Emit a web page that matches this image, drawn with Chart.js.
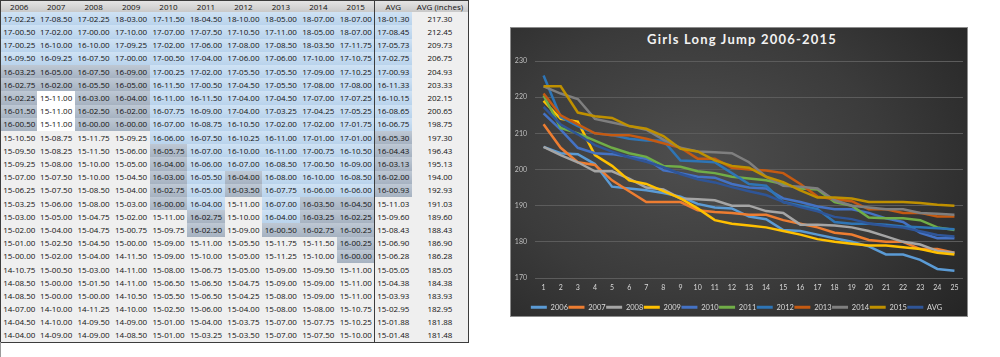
<!DOCTYPE html>
<html><head><meta charset="utf-8">
<script src="https://cdn.jsdelivr.net/npm/chart.js@4.4.1/dist/chart.umd.min.js"></script>
<style>
html,body{margin:0;padding:0;background:#fff;width:1000px;height:357px;overflow:hidden;position:relative;}
#tbl{position:absolute;left:0;top:0;width:470px;height:357px;font-family:"Open Sans",sans-serif;font-size:8px;color:#111;}
.c{position:absolute;box-sizing:border-box;border-right:1px solid #3c3c3c;border-bottom:1px solid #3c3c3c;display:flex;align-items:center;justify-content:center;white-space:nowrap;line-height:1;}
.hd{background:linear-gradient(#e4e4e4,#c9c9c9);}
.bl{background:linear-gradient(#cfe2f4,#b9d3ec);}
.gr{background:linear-gradient(#bec8d4,#a6b2c1);}
.wh{background:#ffffff;}
.lt{background:#efefef;}
#edge{position:absolute;left:0;top:342px;width:1px;height:15px;background:#9a9a9a;}
#box{position:absolute;left:510px;top:27px;width:458px;height:290px;box-sizing:border-box;border:1px solid #8c8c8c;
 background:radial-gradient(ellipse 75% 85% at 40% 45%, #4e4e4e 0%, #3b3b3b 55%, #262626 100%);}
#title{position:absolute;left:510px;top:31px;width:464px;text-align:center;font-family:Lato,"Open Sans",sans-serif;font-weight:bold;font-size:13px;letter-spacing:1.2px;color:#f2f2f2;}
#cv{position:absolute;left:510px;top:27px;}
</style></head><body>
<div id="tbl"></div><div id="edge"></div>
<div id="box"></div>
<div id="title">Girls Long Jump 2006-2015</div>
<canvas id="cv" width="458" height="294"></canvas>
<script>
const headers = ['2006','2007','2008','2009','2010','2011','2012','2013','2014','2015','AVG','AVG (inches)'];
const categories = ['1','2','3','4','5','6','7','8','9','10','11','12','13','14','15','16','17','18','19','20','21','22','23','24','25'];
const y2006 = ['17-02.25','17-00.50','17-00.25','16-09.50','16-03.25','16-02.75','16-02.25','16-01.50','16-00.50','15-10.50','15-09.50','15-09.25','15-07.00','15-06.25','15-03.25','15-03.00','15-02.00','15-01.00','15-00.00','14-10.75','14-08.50','14-08.50','14-07.00','14-04.50','14-04.00'];
const y2007 = ['17-08.50','17-02.00','16-10.00','16-09.25','16-05.00','16-02.00','15-11.00','15-11.00','15-11.00','15-08.75','15-08.25','15-08.00','15-07.50','15-07.50','15-06.00','15-05.00','15-04.00','15-02.50','15-02.00','15-00.50','15-00.00','15-00.00','14-10.00','14-10.00','14-09.00'];
const y2008 = ['17-02.25','17-00.00','16-10.00','16-07.50','16-07.50','16-05.50','16-03.00','16-02.50','16-00.00','15-11.75','15-11.50','15-10.00','15-10.00','15-08.50','15-08.00','15-04.75','15-04.75','15-04.50','15-04.00','15-03.00','15-01.50','15-00.00','14-11.25','14-09.50','14-09.00'];
const y2009 = ['18-03.00','17-10.00','17-09.25','17-00.00','16-09.00','16-05.00','16-04.00','16-02.00','16-00.00','15-09.25','15-06.00','15-05.00','15-04.50','15-04.00','15-03.00','15-02.00','15-00.75','15-00.00','14-11.50','14-11.00','14-11.00','14-10.50','14-10.00','14-09.00','14-08.50'];
const y2010 = ['17-11.50','17-07.00','17-02.00','17-00.50','17-00.25','16-11.50','16-11.00','16-07.75','16-07.00','16-06.00','16-05.75','16-04.00','16-03.00','16-02.75','16-00.00','15-11.00','15-09.75','15-09.00','15-09.00','15-08.00','15-06.50','15-05.50','15-02.50','15-01.00','15-01.00'];
const y2011 = ['18-04.50','17-07.50','17-06.00','17-04.00','17-02.00','17-00.50','16-11.50','16-09.00','16-08.75','16-07.50','16-07.00','16-06.00','16-05.50','16-05.00','16-04.00','16-02.75','16-02.50','15-11.00','15-10.00','15-06.75','15-06.50','15-06.50','15-06.00','15-04.00','15-03.25'];
const y2012 = ['18-10.00','17-10.50','17-08.00','17-06.00','17-05.50','17-04.50','17-04.00','17-04.00','16-10.50','16-10.25','16-10.00','16-07.00','16-04.00','16-03.50','15-11.00','15-10.00','15-09.00','15-05.50','15-05.00','15-05.00','15-04.75','15-04.25','15-04.00','15-03.75','15-03.50'];
const y2013 = ['18-05.00','17-11.00','17-08.50','17-06.00','17-05.50','17-05.50','17-04.50','17-03.25','17-02.00','16-11.00','16-11.00','16-08.50','16-08.00','16-07.75','16-07.00','16-04.00','16-00.50','15-11.75','15-11.25','15-09.00','15-09.00','15-08.00','15-08.00','15-07.00','15-07.00'];
const y2014 = ['18-07.00','18-05.00','18-03.50','17-10.00','17-09.00','17-08.00','17-07.00','17-04.25','17-02.00','17-01.00','17-00.75','17-00.50','16-10.00','16-06.00','16-03.50','16-03.25','16-02.75','15-11.50','15-10.00','15-09.50','15-09.00','15-09.00','15-08.00','15-07.75','15-07.50'];
const y2015 = ['18-07.00','18-07.00','17-11.75','17-10.75','17-10.25','17-08.00','17-07.25','17-05.25','17-01.75','17-01.00','16-10.50','16-09.00','16-08.50','16-06.00','16-04.50','16-02.25','16-00.25','16-00.25','16-00.00','15-11.00','15-11.00','15-11.00','15-10.75','15-10.25','15-10.00'];
const avgFtIn = ['18-01.30','17-08.45','17-05.73','17-02.75','17-00.93','16-11.33','16-10.15','16-08.65','16-06.75','16-05.30','16-04.43','16-03.13','16-02.00','16-00.93','15-11.03','15-09.60','15-08.43','15-06.90','15-06.28','15-05.05','15-04.38','15-03.93','15-02.95','15-01.88','15-01.48'];
const avgInches = [217.30,212.45,209.73,206.75,204.93,203.33,202.15,200.65,198.75,197.30,196.43,195.13,194.00,192.93,191.03,189.60,188.43,186.90,186.28,185.05,184.38,183.93,182.95,181.88,181.48];

const yearCols = [y2006,y2007,y2008,y2009,y2010,y2011,y2012,y2013,y2014,y2015];
const toInches = s => { const [ft, inch] = s.split('-'); return Number(ft) * 12 + Number(inch); };

// ----- table (cell shading bands: last blue row, last gray row, last white row)
const bands = [[4,9,0],[4,6,9],[4,9,0],[4,9,0],[10,15,0],[15,17,0],[12,14,0],[16,17,0],[14,17,0],[14,19,0],[9,14,0]];
const tbl = document.getElementById('tbl');
const colW = 37.45, lastW = 56, hdrH = 12.3, rowH = 13.19;
const allCols = [...yearCols, avgFtIn, avgInches.map(v => v.toFixed(2))];
function cell(x, y, w, h, txt, cls, first, top) {
  const d = document.createElement('div');
  d.className = 'c ' + cls;
  d.style.left = x + 'px'; d.style.top = y + 'px'; d.style.width = w + 'px'; d.style.height = h + 'px';
  if (first) d.style.borderLeft = '1px solid #3c3c3c';
  if (top) d.style.borderTop = '1px solid #3c3c3c';
  d.textContent = txt; tbl.appendChild(d);
}
headers.forEach((h, c) => {
  const x = c * colW, w = c === 11 ? lastW : colW;
  cell(x, 0, w + 1, hdrH + 1, h, 'hd', c === 0, true);
  for (let r = 0; r < 25; r++) {
    let cls = 'lt';
    if (c < 11) {
      const [b, g, wt] = bands[c];
      if (r + 1 <= b) cls = 'bl'; else if (r + 1 <= g) cls = 'gr'; else if (r + 1 <= wt) cls = 'wh';
    }
    cell(x, hdrH + r * rowH, w + 1, rowH + 1, allCols[c][r], cls, c === 0, false);
  }
});

// ----- chart
const seriesNames = ['2006','2007','2008','2009','2010','2011','2012','2013','2014','2015','AVG'];
const colors = ['#5B9BD5','#ED7D31','#A5A5A5','#FFC000','#4472C4','#70AD47','#2E75B6','#C55A11','#7F7F7F','#BF9000','#2F5597'];
const seriesData = [...yearCols.map(col => col.map(toInches)), avgInches];

new Chart(document.getElementById('cv'), {
  type: 'line',
  data: {
    labels: categories,
    datasets: seriesData.map((d, i) => ({
      label: seriesNames[i], data: d, borderColor: colors[i], backgroundColor: colors[i],
      borderWidth: 2.5, pointRadius: 0, tension: 0, fill: false, order: -i
    }))
  },
  options: {
    responsive: false, animation: false, devicePixelRatio: 1,
    layout: { padding: { top: 34, right: 5, bottom: 0, left: 0 } },
    plugins: {
      title: { display: false },
      tooltip: { enabled: false },
      legend: {
        position: 'bottom',
        labels: {
          boxWidth: 16, boxHeight: 3, padding: 0.5, color: '#d9d9d9',
          font: { family: 'Lato, "Open Sans", sans-serif', size: 7.5 },
          generateLabels: chart => Chart.defaults.plugins.legend.labels.generateLabels(chart)
            .map(l => Object.assign(l, { fillStyle: l.strokeStyle, lineWidth: 0 }))
            .sort((a, b) => a.datasetIndex - b.datasetIndex)
        }
      }
    },
    scales: {
      x: {
        offset: true,
        grid: { display: false, drawTicks: false },
        border: { display: false },
        ticks: { color: '#d9d9d9', font: { family: 'Lato, "Open Sans", sans-serif', size: 7 }, padding: 6, maxRotation: 0, autoSkip: false },
        afterFit: s => { s.height = 25; }
      },
      y: {
        min: 170, max: 230,
        grid: { color: '#5c5c5c', lineWidth: 1, drawTicks: false },
        border: { display: false },
        ticks: { stepSize: 10, color: '#bfbfbf', font: { family: 'Lato, "Open Sans", sans-serif', size: 7 }, padding: 8 },
        afterFit: s => { s.width = 25; }
      }
    }
  }
});
</script>
</body></html>
